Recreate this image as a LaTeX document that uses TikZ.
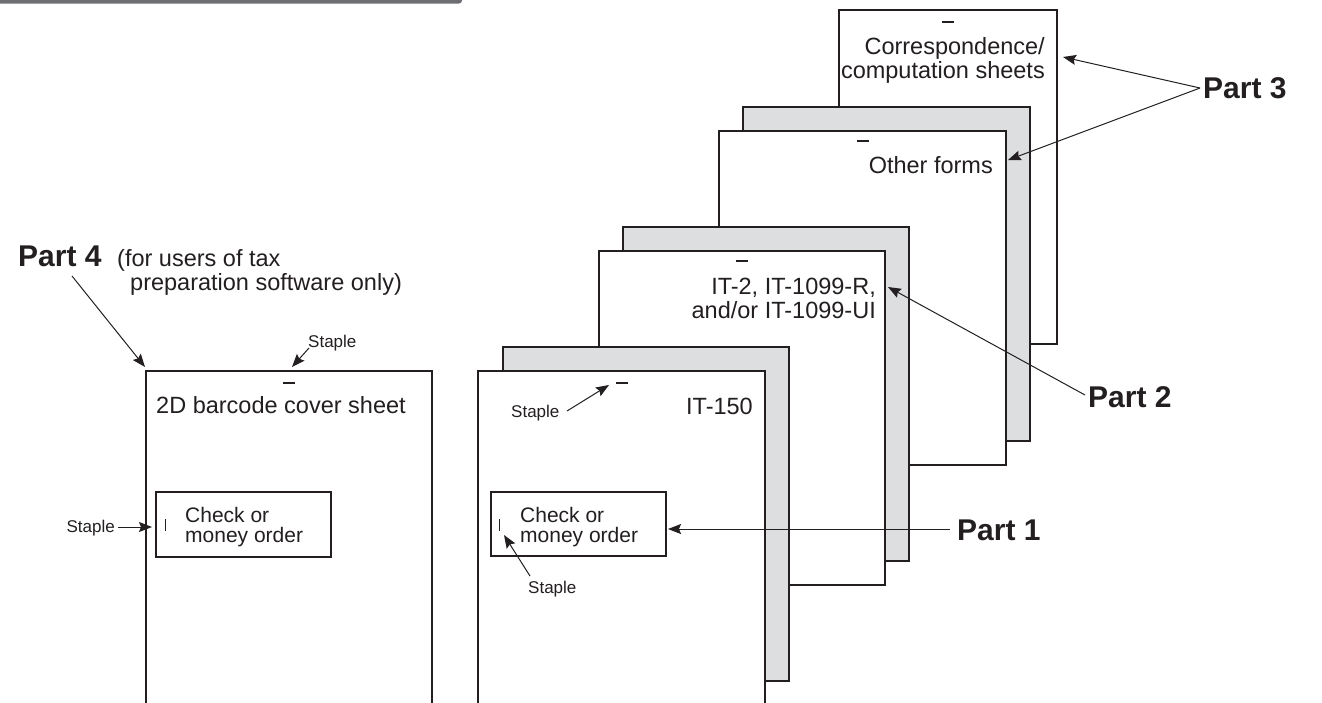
\documentclass[tikz,border=0pt]{standalone}
\usepackage{fontspec}
\setmainfont{Liberation Sans}
\usetikzlibrary{arrows.meta}
\definecolor{ink}{RGB}{35,31,32}
\definecolor{shade}{RGB}{221,222,224}
\definecolor{barc}{RGB}{109,110,113}
\begin{document}
\begin{tikzpicture}[x=1pt,y=-1pt,
  sheet/.style={draw=ink,line width=1.2pt,fill=white},
  back/.style={draw=ink,line width=1.2pt,fill=shade},
  stapledash/.style={draw=ink,line width=2pt},
  lbl/.style={font=\fontsize{23.5}{24}\selectfont,text=ink,inner sep=0pt},
  chk/.style={font=\fontsize{21}{21}\selectfont,text=ink,inner sep=0pt},
  small/.style={font=\fontsize{17}{18}\selectfont,text=ink,inner sep=0pt},
  part/.style={font=\fontsize{30}{32}\selectfont\bfseries,text=ink,inner sep=0pt},
  arr/.style={draw=ink,line width=1pt,-{Stealth[length=13pt,width=10pt,inset=2pt]}},
]
\useasboundingbox (0,0) rectangle (1322,702);
% top bar
\fill[barc,rounded corners=3pt] (-6,-6) rectangle (462,3.5);

% stack, back to front
\path[sheet] (839,10) rectangle (1057,344);
\path[back]  (743,107) rectangle (1030,441);
\path[sheet] (719,131) rectangle (1006,465);
\path[back]  (623,227) rectangle (909,561);
\path[sheet] (599,251) rectangle (885,585);
\path[back]  (503,347) rectangle (789,681);
\path[sheet] (478,371) rectangle (765,712);
% left sheet
\path[sheet] (146,371) rectangle (432,712);

% staple dashes
\draw[stapledash] (942,22) -- (954,22);
\draw[stapledash] (857,141) -- (869,141);
\draw[stapledash] (736,261) -- (748,261);
\draw[stapledash] (616,383) -- (628,383);
\draw[stapledash] (283,383) -- (295,383);

% sheet texts
\node[lbl,anchor=base east] (corr1) at (1045,54) {Correspondence/};
\node[lbl,anchor=base east] (corr2) at (1045,78) {computation sheets};
\node[lbl,anchor=base east] (other) at (993,173) {Other forms};
\node[lbl,anchor=base east] (ita) at (876,294) {IT-2, IT-1099-R,};
\node[lbl,anchor=base east] (itb) at (876,318) {and/or IT-1099-UI};
\node[lbl,anchor=base east] (it150) at (753,414) {IT-150};
\node[lbl,anchor=base] (bar2d) at (281,413) {2D barcode cover sheet};

% check boxes
\path[draw=ink,line width=1.2pt] (156,492) rectangle (331,557);
\path[draw=ink,line width=1.2pt] (491,492) rectangle (666,556);
\draw[ink,line width=1pt] (165,519) -- (165,531);
\draw[ink,line width=1pt] (499,519) -- (499,531);
\node[chk,anchor=base west] (chkA1) at (185,522) {Check or};
\node[chk,anchor=base west] (chkA2) at (185,542) {money order};
\node[chk,anchor=base west] (chkB1) at (520,522) {Check or};
\node[chk,anchor=base west] (chkB2) at (520,542) {money order};

% staple labels
\node[small,anchor=base west] (stTop) at (308,347) {Staple};
\node[small,anchor=base east] (stLeft) at (115,532) {Staple};
\node[small,anchor=base west] (stMid) at (511,417) {Staple};
\node[small,anchor=base west] (stLow) at (528,593) {Staple};
\coordinate (tTop) at (292,367);
\coordinate (tLeft) at (152,527);
\coordinate (tMid) at (609,385);
\coordinate (tLow) at (504,535);
\draw[arr] (309,348) -- (tTop);
\draw[arr] (118,527) -- (tLeft);
\draw[arr] (567,411) -- (tMid);
\draw[arr] (530,576) -- (tLow);

% part labels
\node[part,anchor=base west] (p1) at (957,540) {Part 1};
\node[part,anchor=base west] (p2) at (1088,407) {Part 2};
\node[part,anchor=base west] (p3) at (1203,98) {Part 3};
\node[part,anchor=base west] (p4) at (18,266) {Part 4};
\node[lbl,anchor=base west] (p4a) at (117,266) {(for users of tax};
\node[lbl,anchor=base west] (p4b) at (130,290) {preparation software only)};

\coordinate (p1s) at (950,529);
\coordinate (p1t) at (668,529);
\coordinate (p2s) at (1085,395);
\coordinate (p2t) at (888,287);
\coordinate (p3s) at (1200,88);
\coordinate (p3t1) at (1063,57);
\coordinate (p3t2) at (1008,160);
\coordinate (p4s) at (72,276);
\coordinate (p4t) at (145,367);
\draw[arr] (p1s) -- (p1t);
\draw[arr] (p2s) -- (p2t);
\draw[arr] (p3s) -- (p3t1);
\draw[arr] (p3s) -- (p3t2);
\draw[arr] (p4s) -- (p4t);
\end{tikzpicture}
\end{document}
